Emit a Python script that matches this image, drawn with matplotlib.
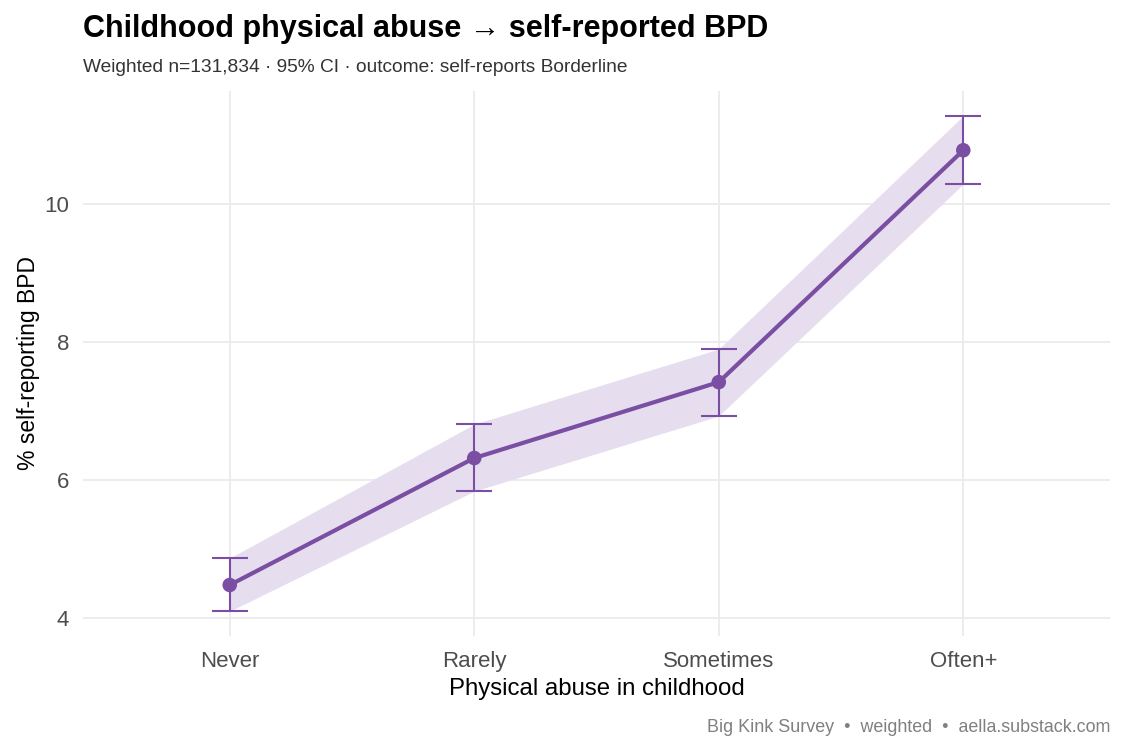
import matplotlib
matplotlib.use("Agg")
import matplotlib.pyplot as plt
import numpy as np

categories = ["Never", "Rarely", "Sometimes", "Often+"]
pct = [4.48, 6.32, 7.42, 10.78]
ci_low = [4.10, 5.84, 6.93, 10.29]
ci_high = [4.87, 6.81, 7.90, 11.28]
yticks = [4, 6, 8, 10]

plt.rcParams['font.family'] = ['Liberation Sans', 'DejaVu Sans']
col = "#7A4EA3"

fig = plt.figure(figsize=(11.25, 7.5), dpi=100)
ax = fig.add_axes([83/1125, 1-636/750, (1110-83)/1125, (636-91)/750])
x = np.arange(len(categories))

ax.fill_between(x, ci_low, ci_high, color="#E6DDEE", lw=0, zorder=1)
ax.plot(x, pct, color=col, lw=3, zorder=3)
ax.errorbar(x, pct, yerr=[np.array(pct)-np.array(ci_low), np.array(ci_high)-np.array(pct)],
            fmt='none', ecolor=col, elinewidth=1.5, capsize=13, capthick=1.5, zorder=3)
ax.scatter(x, pct, s=110, color=col, zorder=4, edgecolors='none')

ax.set_xlim(-0.6, 3.6)
lo, hi = min(ci_low), max(ci_high)
r = hi - lo
ax.set_ylim(lo - 0.05*r, hi + 0.05*r)
ax.set_xticks(x)
ax.set_xticklabels(categories)
ax.set_yticks(yticks)
ax.grid(True, color="#EBEBEB", lw=1.3)
ax.set_axisbelow(True)
for s in ax.spines.values():
    s.set_visible(False)
ax.tick_params(length=0, labelsize=16, colors="#4D4D4D")
ax.tick_params(axis='x', pad=11)
ax.tick_params(axis='y', pad=10)
ax.set_xlabel("Physical abuse in childhood", fontsize=17.3, color="black", labelpad=4)
ax.set_ylabel("% self-reporting BPD", fontsize=16.5, color="black", labelpad=3)

fig.text(83/1125, 1-29/750, "Childhood physical abuse \u2192 self-reported BPD",
         fontsize=22, fontweight='bold', va='center', ha='left')
fig.text(83/1125, 1-68/750, "Weighted n=131,834 \u00b7 95% CI \u00b7 outcome: self-reports Borderline",
         fontsize=13.8, color="#333333", va='center', ha='left')
fig.text(1110/1125, 1-727/750, "Big Kink Survey  \u2022  weighted  \u2022  aella.substack.com",
         fontsize=12.9, color="#808080", va='center', ha='right')

fig.savefig("out.png", dpi=100, facecolor="white")
